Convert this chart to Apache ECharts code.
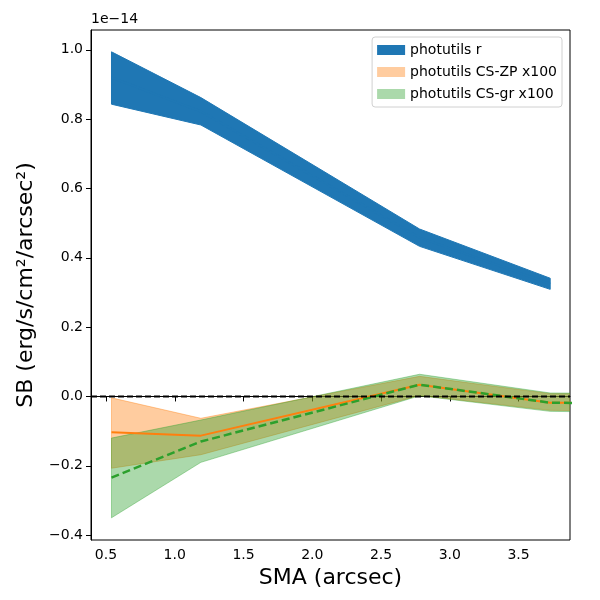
<!DOCTYPE html>
<html>
<head>
<meta charset="utf-8">
<script src="https://cdn.jsdelivr.net/npm/echarts@6/dist/echarts.min.js"></script>
<style>
  html, body { margin: 0; padding: 0; background: #fff; }
  #chart { width: 600px; height: 600px; }
</style>
</head>
<body>
<div id="chart"></div>
<script>
// SMA positions (arcsec)
const sma = [0.54, 1.19, 2.78, 3.73]
// CS curves carry one more point, past the right edge of the plot
const smaCs = [0.54, 1.19, 2.78, 3.73, 4.6]

// photutils r (units of 1e-14)
const rLow = [0.843, 0.783, 0.433, 0.309]
const rMid = [0.92, 0.822, 0.458, 0.325]
const rHigh = [0.994, 0.862, 0.483, 0.341]

// photutils CS-ZP x100
const zpLow = [-0.207, -0.168, 0.003, -0.040, -0.044]
const zpMid = [-0.103, -0.113, 0.034, -0.018, -0.020]
const zpHigh = [-0.004, -0.063, 0.058, 0.008, 0.006]

// photutils CS-gr x100
const grLow = [-0.350, -0.190, 0.002, -0.043, -0.047]
const grMid = [-0.234, -0.130, 0.034, -0.018, -0.021]
const grHigh = [-0.120, -0.068, 0.064, 0.010, 0.008]

// axis limits and ticks
const xRange = [0.391, 3.874]
const yRange = [-0.414, 1.057]
const xTicks = [0.5, 1.0, 1.5, 2.0, 2.5, 3.0, 3.5]
const yTicks = [-0.4, -0.2, 0.0, 0.2, 0.4, 0.6, 0.8, 1.0]

const FONT = 'DejaVu Sans'
const chart = echarts.init(document.getElementById('chart'))

const pairs = (xs, ys) => ys.map((v, i) => [xs[i], v])
const isTick = (list, v) => list.some(t => Math.abs(t - v) < 1e-6)
const fmt = v => v.toFixed(1).replace('-', '\u2212')

// filled band between lo and hi, drawn as one polygon (like fill_between)
function band(name, xs, lo, hi, fill, edge, z) {
    return {
        name: name, type: 'custom', z: z, clip: true, silent: true,
        itemStyle: { color: fill },
        data: xs.map((x, i) => [x, lo[i], hi[i]]),
        encode: { x: 0, y: [1, 2] },
        renderItem: (params, api) => {
            if (params.dataIndex !== 0) return null
            const top = xs.map((x, i) => api.coord([x, hi[i]]))
            const bot = xs.map((x, i) => api.coord([x, lo[i]])).reverse()
            return {
                type: 'polygon',
                shape: { points: top.concat(bot) },
                style: { fill: fill, stroke: edge, lineWidth: 1 }
            }
        }
    }
}

const option = {
    animation: false,
    textStyle: { fontFamily: FONT },
    grid: {
        left: 91, right: 30, top: 30, bottom: 60,
        show: true, borderColor: '#000', borderWidth: 1, backgroundColor: 'transparent'
    },
    legend: {
        right: 38, top: 37, orient: 'vertical', z: 20,
        itemWidth: 28, itemHeight: 10, itemGap: 8,
        padding: [6, 5, 6, 5],
        backgroundColor: '#fff', borderColor: '#d0d0d0', borderWidth: 1, borderRadius: 3,
        textStyle: { fontFamily: FONT, fontSize: 14, color: '#000' },
        data: [
            { name: 'photutils r', icon: 'rect', itemStyle: { color: '#1f77b4' } },
            { name: 'photutils CS-ZP x100', icon: 'rect', itemStyle: { color: 'rgba(255,127,14,0.4)' } },
            { name: 'photutils CS-gr x100', icon: 'rect', itemStyle: { color: 'rgba(44,160,44,0.4)' } }
        ]
    },
    xAxis: {
        type: 'value', min: xRange[0], max: xRange[1], splitNumber: 7,
        name: 'SMA (arcsec)', nameLocation: 'middle', nameGap: 27,
        nameTextStyle: { fontFamily: FONT, fontSize: 22, color: '#000' },
        axisLine: { lineStyle: { color: '#000', width: 1 } },
        axisTick: { length: 5, lineStyle: { color: '#000' } },
        axisLabel: {
            fontFamily: FONT, fontSize: 14, color: '#000', margin: 8,
            showMinLabel: false, showMaxLabel: false,
            formatter: v => isTick(xTicks, v) ? fmt(v) : ''
        },
        splitLine: { show: false }
    },
    yAxis: {
        type: 'value', min: yRange[0], max: yRange[1], splitNumber: 7,
        name: 'SB (erg/s/cm\u00b2/arcsec\u00b2)', nameLocation: 'middle', nameGap: 54, nameRotate: 90,
        nameTextStyle: { fontFamily: FONT, fontSize: 22, color: '#000' },
        axisLine: { lineStyle: { color: '#000', width: 1 } },
        axisTick: { length: 5, lineStyle: { color: '#000' } },
        axisLabel: {
            fontFamily: FONT, fontSize: 14, color: '#000', margin: 8,
            showMinLabel: false, showMaxLabel: false,
            formatter: v => isTick(yTicks, v) ? fmt(v) : ''
        },
        splitLine: { show: false }
    },
    graphic: [{
        type: 'text', left: 91, top: 12,
        style: { text: '1e\u221214', font: '14px "DejaVu Sans"', fill: '#000' }
    }],
    series: [
        band('photutils r', sma, rLow, rHigh, '#1f77b4', '#1f77b4', 2),
        {
            name: 'r_mid', type: 'line', data: pairs(sma, rMid), symbol: 'none', z: 3,
            lineStyle: { color: '#1f77b4', width: 2 }
        },
        band('photutils CS-ZP x100', smaCs, zpLow, zpHigh, 'rgba(255,127,14,0.4)', 'rgba(255,127,14,0.4)', 4),
        band('photutils CS-gr x100', smaCs, grLow, grHigh, 'rgba(44,160,44,0.4)', 'rgba(44,160,44,0.4)', 5),
        {
            name: 'zp_mid', type: 'line', data: pairs(smaCs, zpMid), symbol: 'none', z: 6,
            lineStyle: { color: '#ff7f0e', width: 2 }
        },
        {
            name: 'gr_mid', type: 'line', data: pairs(smaCs, grMid), symbol: 'none', z: 7,
            lineStyle: { color: '#2ca02c', width: 2.5, type: [8, 4] }
        },
        {
            // horizontal zero reference across the full x range
            name: 'zero', type: 'line', data: pairs(xRange, [0, 0]), symbol: 'none', z: 8,
            silent: true,
            lineStyle: { color: '#000', width: 2, type: [6, 3] }
        }
    ]
}

chart.setOption(option)
window.addEventListener('resize', () => chart.resize())
</script>
</body>
</html>
